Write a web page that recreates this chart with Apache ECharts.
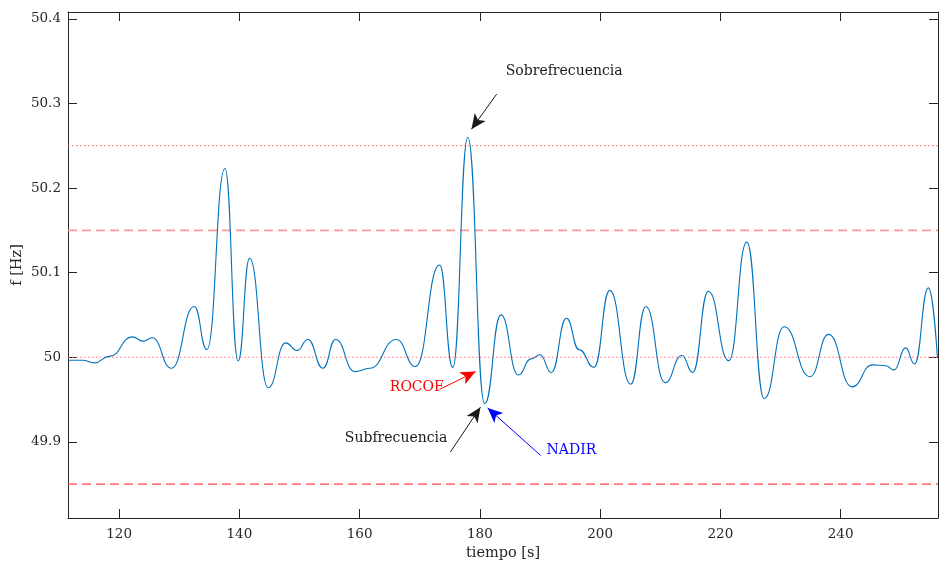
<!DOCTYPE html>
<html>
<head>
<meta charset="utf-8">
<title>f [Hz] vs tiempo [s]</title>
<script src="https://cdn.jsdelivr.net/npm/echarts@6/dist/echarts.min.js"></script>
<style>
  html, body { margin: 0; padding: 0; background: #fff; }
  #chart { width: 939px; height: 562px; }
</style>
</head>
<body>
<div id="chart"></div>
<script>
// Frequency trace: turning points of the measured signal (time in s, frequency in Hz)
const tiempo = [
  111.6, 113.9, 115.9, 118.4, 122.2, 124.0, 125.5, 128.7, 132.5, 134.6,
  137.6, 139.8, 141.7, 144.8, 147.7, 149.6, 151.4, 153.9, 156.0, 159.2,
  161.7, 166.1, 169.3, 173.3, 175.5, 178.0, 180.8, 183.5, 186.4, 188.5,
  190.0, 191.9, 194.4, 196.5, 199.0, 201.6, 205.1, 207.6, 210.8, 213.6,
  215.4, 218.0, 221.4, 224.4, 227.3, 230.6, 234.9, 238.0, 241.9, 245.3,
  247.5, 248.9, 250.8, 252.3, 254.6, 256.1
];
const frecuencia = [
  49.9965, 49.9965, 49.9933, 50.001, 50.024, 50.019, 50.023, 49.987, 50.060, 50.009,
  50.223, 49.9956, 50.117, 49.964, 50.017, 50.008, 50.021, 49.987, 50.021, 49.983,
  49.987, 50.021, 49.989, 50.109, 49.988, 50.260, 49.945, 50.050, 49.979, 49.998,
  50.003, 49.982, 50.046, 50.009, 49.988, 50.079, 49.968, 50.060, 49.970, 50.002,
  49.982, 50.078, 49.996, 50.136, 49.951, 50.036, 49.977, 50.027, 49.965, 49.991,
  49.990, 49.985, 50.011, 49.992, 50.082, 50.000
];

// Axis extents
const xRango = [111.5, 256.2];
const yRango = [49.81, 50.408];

// Reference levels (Hz)
const nominal = 50;
const bandaSuperior = 50.15;
const bandaInferior = 49.85;
const limiteSuperior = 50.25;

// Tick labels
const xTicks = [120, 140, 160, 180, 200, 220, 240];
const yTicks = [49.9, 50, 50.1, 50.2, 50.3, 50.4];

// Annotations: text anchor and arrow [from, to] in data coordinates
const notas = [
  { texto: 'Sobrefrecuencia', color: '#1a1a1a', ancla: [184.3, 50.338], alinear: 'left',
    flecha: [[182.8, 50.311], [178.6, 50.2695]] },
  { texto: 'Subfrecuencia', color: '#1a1a1a', ancla: [174.6, 49.904], alinear: 'right',
    flecha: [[175.1, 49.888], [180.1, 49.941]] },
  { texto: 'ROCOF', color: '#ff0000', ancla: [174.0, 49.9645], alinear: 'right',
    flecha: [[173.3, 49.962], [179.3, 49.983]] },
  { texto: 'NADIR', color: '#0000ff', ancla: [191.1, 49.890], alinear: 'left',
    flecha: [[190.1, 49.884], [181.3, 49.940]] }
];

const FONT = 'DejaVu Serif';
const AXIS_COLOR = '#262626';

const serie = tiempo.map((t, i) => [t, frecuencia[i]]);

const chart = echarts.init(document.getElementById('chart'), null, { renderer: 'canvas' });

const fmtY = v => String(Number(v.toFixed(1)));

const ejeX = (pos, etiquetas) => ({
  type: 'value',
  position: pos,
  min: xRango[0],
  max: xRango[1],
  name: etiquetas ? 'tiempo [s]' : '',
  nameLocation: 'middle',
  nameGap: 28,
  nameTextStyle: { fontFamily: FONT, fontSize: 14.5, color: AXIS_COLOR },
  axisLine: { show: true, onZero: false, lineStyle: { color: AXIS_COLOR, width: 1 } },
  axisTick: { show: true, inside: true, length: 9, customValues: xTicks,
              lineStyle: { color: AXIS_COLOR, width: 1 } },
  axisLabel: { show: etiquetas, customValues: xTicks, margin: 9,
               fontFamily: FONT, fontSize: 13.5, color: AXIS_COLOR },
  splitLine: { show: false }
});

const ejeY = (pos, etiquetas) => ({
  type: 'value',
  position: pos,
  min: yRango[0],
  max: yRango[1],
  name: etiquetas ? 'f [Hz]' : '',
  nameLocation: 'middle',
  nameGap: 43,
  nameMoveOverlap: false,
  nameRotate: 90,
  nameTextStyle: { fontFamily: FONT, fontSize: 14.5, color: AXIS_COLOR },
  axisLine: { show: true, onZero: false, lineStyle: { color: AXIS_COLOR, width: 1 } },
  axisTick: { show: true, inside: true, length: 9, customValues: yTicks,
              lineStyle: { color: AXIS_COLOR, width: 1 } },
  axisLabel: { show: etiquetas, customValues: yTicks, margin: 7, formatter: fmtY,
               fontFamily: FONT, fontSize: 13.5, color: AXIS_COLOR },
  splitLine: { show: false }
});

// Horizontal reference level drawn across the full time range
const nivel = (y, color, tipo, ancho) => ({
  type: 'line',
  data: [[xRango[0], y], [xRango[1], y]],
  showSymbol: false,
  silent: true,
  lineStyle: { color: color, type: tipo, width: ancho },
  itemStyle: { color: color },
  z: 2
});

const option = {
  animation: false,
  backgroundColor: '#ffffff',
  grid: { left: 68, right: 1, top: 12, bottom: 44, containLabel: false, outerBoundsMode: 'none' },
  xAxis: [ejeX('bottom', true), ejeX('top', false)],
  yAxis: [ejeY('left', true), ejeY('right', false)],
  series: [
    nivel(limiteSuperior, '#ff6b6b', [1.5, 2.5], 1),
    nivel(bandaSuperior, '#ff9a9a', [9, 5], 1.7),
    nivel(nominal, '#ff7b7b', [1.5, 2.5], 1),
    nivel(bandaInferior, '#ff4545', [9, 5], 1.1),
    {
      type: 'line',
      name: 'f',
      data: serie,
      showSymbol: false,
      smooth: 0.5,
      smoothMonotone: 'x',
      lineStyle: { color: '#0072bd', width: 1.1 },
      itemStyle: { color: '#0072bd' },
      z: 5
    },
    // Annotation arrows and texts
    {
      type: 'line',
      data: [],
      z: 8,
      markLine: {
        silent: true,
        symbol: ['none', 'arrow'],
        symbolSize: [10, 15],
        label: { show: false },
        data: notas.map(n => [
          { coord: n.flecha[0], lineStyle: { color: n.color, width: 1, type: 'solid' },
            itemStyle: { color: n.color } },
          { coord: n.flecha[1] }
        ])
      },
      markPoint: {
        silent: true,
        symbol: 'circle',
        symbolSize: 1,
        itemStyle: { color: 'rgba(0,0,0,0)' },
        data: notas.map(n => ({
          coord: n.ancla,
          label: {
            show: true,
            formatter: n.texto,
            position: 'inside',
            align: n.alinear,
            verticalAlign: 'middle',
            fontFamily: FONT,
            fontSize: 14,
            color: n.color
          }
        }))
      }
    }
  ]
};

chart.setOption(option);
</script>
</body>
</html>
